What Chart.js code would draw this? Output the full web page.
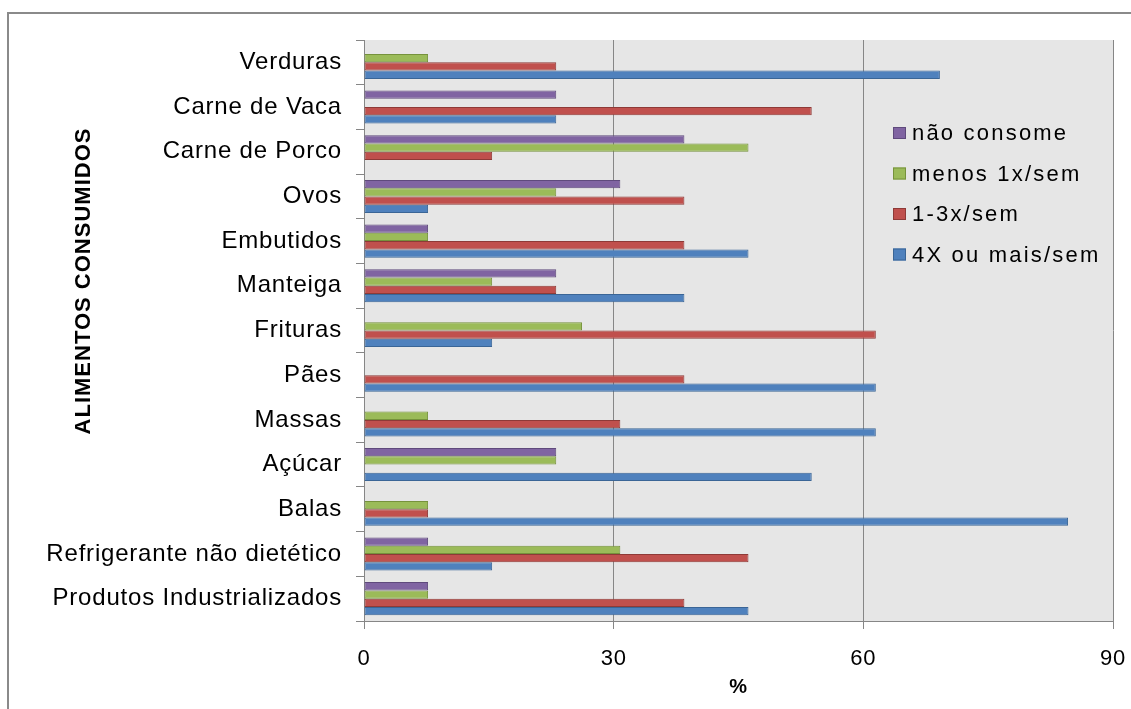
<!DOCTYPE html>
<html>
<head>
<meta charset="utf-8">
<script src="https://cdn.jsdelivr.net/npm/chart.js@4/dist/chart.umd.min.js"></script>
<style>
  html, body { margin: 0; padding: 0; background: #fff; }
  #wrap { width: 1131px; height: 709px; position: relative; }
</style>
</head>
<body>
<div id="wrap"><canvas id="grafico"></canvas></div>
<script>
// Categorias (de cima para baixo)
const alimentos = ['Verduras', 'Carne de Vaca', 'Carne de Porco', 'Ovos', 'Embutidos', 'Manteiga',
    'Frituras', 'Pães', 'Massas', 'Açúcar', 'Balas', 'Refrigerante não dietético', 'Produtos Industrializados'];

// Séries (%)
const naoConsome = [0, 23.1, 38.5, 30.8, 7.7, 23.1, 0, 0, 0, 23.1, 0, 7.7, 7.7];
const menos1x    = [7.7, 0, 46.2, 23.1, 7.7, 15.4, 26.2, 0, 7.7, 23.1, 7.7, 30.8, 7.7];
const umATres    = [23.1, 53.8, 15.4, 38.5, 38.5, 23.1, 61.5, 38.5, 30.8, 0, 7.7, 46.2, 38.5];
const quatroMais = [69.2, 23.1, 0, 7.7, 46.2, 38.5, 15.4, 61.5, 61.5, 53.8, 84.6, 15.4, 46.2];

const nomesSeries = ['não consome', 'menos 1x/sem', '1-3x/sem', '4X ou mais/sem'];
const ticksX = [0, 30, 60, 90];

const cores = ['#8064A2', '#9BBB59', '#C0504D', '#4F81BD'];
const bordas = ['#5F4A7C', '#76923C', '#8E3A37', '#3A6596'];
const FONTE = '"Liberation Sans", Arial, sans-serif';

// fundo cinza da área do gráfico + moldura externa
const fundoPlugin = {
    id: 'fundo',
    beforeDraw(chart) {
        const { ctx, chartArea: a } = chart;
        ctx.save();
        ctx.fillStyle = '#fff';
        ctx.fillRect(0, 0, chart.width, chart.height);
        ctx.strokeStyle = '#8a8a8a';
        ctx.lineWidth = 2;
        ctx.strokeRect(8, 13, chart.width + 20, chart.height + 20);
        ctx.fillStyle = '#E6E6E6';
        ctx.fillRect(a.left, a.top, a.right - a.left, a.bottom - a.top);
        ctx.restore();
        ctx.letterSpacing = '0.8px';
    }
};

// título do eixo Y e legenda dentro da área
const textosPlugin = {
    id: 'textos',
    afterDraw(chart) {
        const ctx = chart.ctx;
        ctx.save();
        ctx.fillStyle = '#000';
        ctx.letterSpacing = '1px';
        ctx.font = 'bold 22px ' + FONTE;
        ctx.textAlign = 'center';
        ctx.textBaseline = 'middle';
        ctx.translate(84, 281);
        ctx.rotate(-Math.PI / 2);
        ctx.fillText('ALIMENTOS CONSUMIDOS', 0, 0);
        ctx.restore();

        ctx.save();
        ctx.letterSpacing = '2.2px';
        ctx.font = '22px ' + FONTE;
        ctx.textAlign = 'left';
        ctx.textBaseline = 'middle';
        chart.data.datasets.forEach((ds, i) => {
            const y = 133 + i * 40.5;
            ctx.fillStyle = ds.backgroundColor;
            ctx.fillRect(893, y - 6, 13, 12);
            ctx.strokeStyle = ds.borderColor;
            ctx.lineWidth = 1;
            ctx.strokeRect(893.5, y - 5.5, 12, 11);
            ctx.fillStyle = '#000';
            ctx.fillText(ds.label, 912, y + 1);
        });
        ctx.restore();
    }
};

const series = [naoConsome, menos1x, umATres, quatroMais];

new Chart(document.getElementById('grafico'), {
    type: 'bar',
    data: {
        labels: alimentos,
        datasets: series.map((d, i) => ({
            label: nomesSeries[i],
            data: d,
            backgroundColor: cores[i],
            borderColor: bordas[i],
            borderWidth: 1,
            borderSkipped: false,
            categoryPercentage: 0.74,
            barPercentage: 1
        }))
    },
    options: {
        indexAxis: 'y',
        responsive: true,
        maintainAspectRatio: false,
        animation: false,
        layout: { padding: { left: 0, right: 18, top: 40, bottom: 0 } },
        plugins: {
            legend: { display: false },
            tooltip: { enabled: false }
        },
        scales: {
            x: {
                min: 0,
                max: 90,
                afterBuildTicks: s => { s.ticks = ticksX.map(v => ({ value: v })); },
                afterFit: s => { s.height = 88; s.paddingLeft = 0; s.paddingRight = 0; },
                grid: { color: '#868686', lineWidth: 1, tickLength: 8 },
                border: { color: '#868686' },
                ticks: { color: '#000', font: { family: FONTE, size: 22 }, padding: 17 },
                title: { display: true, text: '%', color: '#000', font: { family: FONTE, size: 20, weight: 'bold' }, padding: { top: 0, bottom: 10 } }
            },
            y: {
                afterFit: s => { s.width = 364; },
                grid: { drawOnChartArea: false, color: '#868686', tickLength: 8, offset: true },
                border: { color: '#868686' },
                ticks: { color: '#000', font: { family: FONTE, size: 24 }, padding: 14, autoSkip: false }
            }
        }
    },
    plugins: [fundoPlugin, textosPlugin]
});
</script>
</body>
</html>
